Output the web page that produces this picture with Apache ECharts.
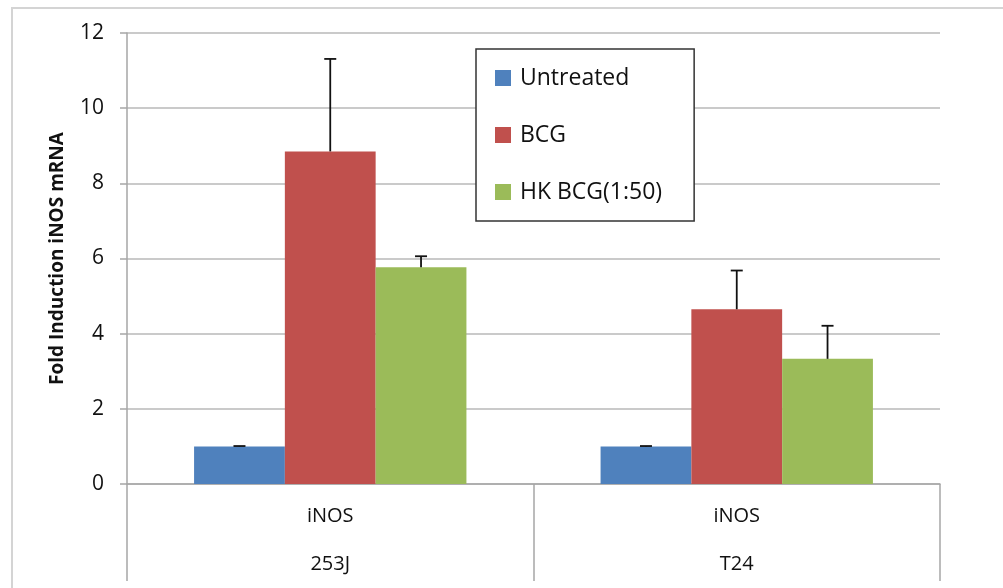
<!DOCTYPE html>
<html><head><meta charset="utf-8">
<script src="https://cdn.jsdelivr.net/npm/echarts@6/dist/echarts.min.js"></script>
<style>html,body{margin:0;padding:0;background:#fff}#c{width:1003px;height:588px}</style>
</head><body><div id="c"></div>
<script>
const categories = ['253J', 'T24'];
const subLabel = 'iNOS';
const seriesNames = ['Untreated', 'BCG', 'HK BCG(1:50)'];
const untreated = [1.0, 1.0];
const untreatedErr = [0.01, 0.01];
const bcg = [8.85, 4.65];
const bcgErr = [2.46, 1.03];
const hk = [5.77, 3.33];
const hkErr = [0.29, 0.88];
const yTicks = [0, 2, 4, 6, 8, 10, 12];

const colors = ['#4F81BD', '#C0504D', '#9BBB59'];
const values = [untreated, bcg, hk];
const errs = [untreatedErr, bcgErr, hkErr];
const FONT = '"Open Sans", sans-serif';
const catGap = 0.33;

const chart = echarts.init(document.getElementById('c'));
const series = [];
values.forEach((v, i) => {
  series.push({
    name: seriesNames[i], type: 'bar', data: v, barGap: '0%', barCategoryGap: (catGap * 100) + '%',
    itemStyle: { color: colors[i] }, z: 2
  });
});
values.forEach((v, i) => {
  series.push({
    type: 'custom', name: 'err' + i, z: 5, silent: true,
    data: v.map((val, k) => [k, val, errs[i][k]]),
    renderItem: function (params, api) {
      const k = api.value(0), val = api.value(1), e = api.value(2);
      const cw = api.size([1, 0])[0];
      const bw = cw * (1 - catGap) / 3;
      const base = api.coord([k, val]);
      const top = api.coord([k, val + e]);
      const x = base[0] + (i - 1) * bw;
      const cap = 6;
      const st = { stroke: '#111', lineWidth: 1.8 };
      return { type: 'group', children: [
        { type: 'line', shape: { x1: x, y1: base[1], x2: x, y2: top[1] }, style: st },
        { type: 'line', shape: { x1: x - cap, y1: top[1], x2: x + cap, y2: top[1] }, style: st }
      ]};
    }
  });
});

chart.setOption({
  animation: false,
  backgroundColor: '#fff',
  textStyle: { fontFamily: FONT },
  graphic: [{
    type: 'rect', shape: { x: 12, y: 8, width: 1100, height: 700 },
    style: { fill: 'none', stroke: '#d4d4d4', lineWidth: 2 }, silent: true, z: 0
  }],
  grid: { left: 127, right: 63, top: 33, bottom: 97 },
  legend: {
    orient: 'vertical', left: 476, top: 49,
    data: seriesNames,
    icon: 'rect', itemWidth: 16, itemHeight: 16, itemGap: 33,
    padding: [17, 32, 17, 19],
    backgroundColor: '#fff', borderColor: '#333', borderWidth: 1.5,
    textStyle: { fontSize: 23, lineHeight: 24, color: '#111', fontFamily: FONT, padding: [0, 0, 0, 4] },
    z: 10
  },
  xAxis: {
    type: 'category', data: categories,
    axisLine: { lineStyle: { color: '#a6a6a6', width: 1.5 } },
    axisTick: { show: true, length: 97, lineStyle: { color: '#a6a6a6', width: 1.5 } },
    axisLabel: {
      formatter: v => subLabel + '\n' + v,
      fontSize: 20, color: '#111', lineHeight: 48, margin: 8, fontFamily: FONT
    }
  },
  yAxis: {
    type: 'value', min: 0, max: 12, interval: 2,
    name: 'Fold Induction iNOS mRNA', nameLocation: 'middle', nameGap: 60,
    nameTextStyle: { fontSize: 19, fontWeight: 'bold', color: '#111', fontFamily: FONT },
    axisLine: { show: true, lineStyle: { color: '#a6a6a6', width: 1.5 } },
    axisTick: { show: true, length: 7, lineStyle: { color: '#a6a6a6', width: 1.5 } },
    axisLabel: { fontSize: 21, color: '#111', margin: 23, fontFamily: FONT,
      formatter: v => yTicks.includes(v) ? String(v) : '' },
    splitLine: { lineStyle: { color: '#b8b8b8', width: 1.5 } }
  },
  series: series
});
</script></body></html>
